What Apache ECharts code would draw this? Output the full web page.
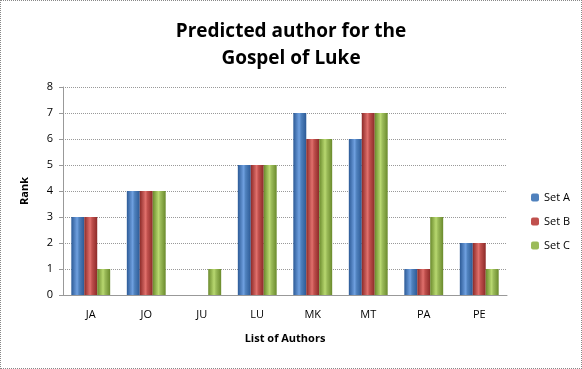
<!DOCTYPE html>
<html><head><meta charset="utf-8">
<script src="https://cdn.jsdelivr.net/npm/echarts@6/dist/echarts.min.js"></script>
<style>html,body{margin:0;padding:0;background:#fff}#c{width:582px;height:369px;box-sizing:border-box;border:1px dotted #888}</style>
</head><body><div id="c"></div>
<script>
var categories = ['JA','JO','JU','LU','MK','MT','PA','PE'];
var setA = [3,4,0,5,7,6,1,2];
var setB = [3,4,0,5,6,7,1,2];
var setC = [1,4,1,5,6,7,3,1];
var seriesNames = ['Set A','Set B','Set C'];
var yTicks = [0,1,2,3,4,5,6,7,8];

function grad(dark, mid, light){
  return new echarts.graphic.LinearGradient(0,0,1,0,[
    {offset:0,color:dark},{offset:0.45,color:light},{offset:0.6,color:mid},{offset:1,color:dark}]);
}
var colors = [
  grad('#2c5a96','#4f81bd','#6fa0e0'),
  grad('#8c2a28','#c0504d','#e0706c'),
  grad('#6a8a2c','#9bbb59','#b8d870')
];
var solid = ['#4f81bd','#c0504d','#9bbb59'];
var datas = [setA,setB,setC];
var chart = echarts.init(document.getElementById('c'), null, {renderer:'canvas'});
chart.setOption({
  animation:false,
  title:{text:'Predicted author for the\nGospel of Luke', left:'center', top:12,
    textStyle:{fontFamily:'Open Sans', fontWeight:'bold', fontSize:19, lineHeight:27, color:'#000'}},
  legend:{orient:'vertical', left:525, top:186, itemWidth:8, itemHeight:8, itemGap:13,
    textStyle:{fontFamily:'Open Sans', fontSize:11, color:'#000'},
    data:seriesNames.map(function(n,i){return {name:n, itemStyle:{color:solid[i]}};})},
  grid:{left:62, right:74, top:86, bottom:73},
  xAxis:{type:'category', data:categories, name:'List of Authors', nameLocation:'middle', nameGap:38,
    nameTextStyle:{fontFamily:'Open Sans', fontWeight:'bold', fontSize:11, color:'#000'},
    axisLine:{lineStyle:{color:'#999'}}, axisTick:{show:false},
    axisLabel:{fontFamily:'Open Sans', fontSize:11, color:'#000', margin:14}},
  yAxis:{type:'value', min:0, max:8, interval:1, name:'Rank', nameLocation:'middle', nameGap:33,
    nameTextStyle:{fontFamily:'Open Sans', fontWeight:'bold', fontSize:11, color:'#000'},
    axisLine:{show:true, lineStyle:{color:'#999'}}, axisTick:{show:true, length:4, lineStyle:{color:'#999'}},
    axisLabel:{fontFamily:'Open Sans', fontSize:11, color:'#000', margin:10,
      formatter:function(v){return yTicks.indexOf(v)>=0?String(v):'';}},
    splitLine:{lineStyle:{color:'#999', type:'dotted'}}},
  series:datas.map(function(d,i){return {name:seriesNames[i], type:'bar', data:d,
    barGap:'0%', barCategoryGap:'30%', itemStyle:{color:colors[i], borderWidth:0}};})
});
</script></body></html>
